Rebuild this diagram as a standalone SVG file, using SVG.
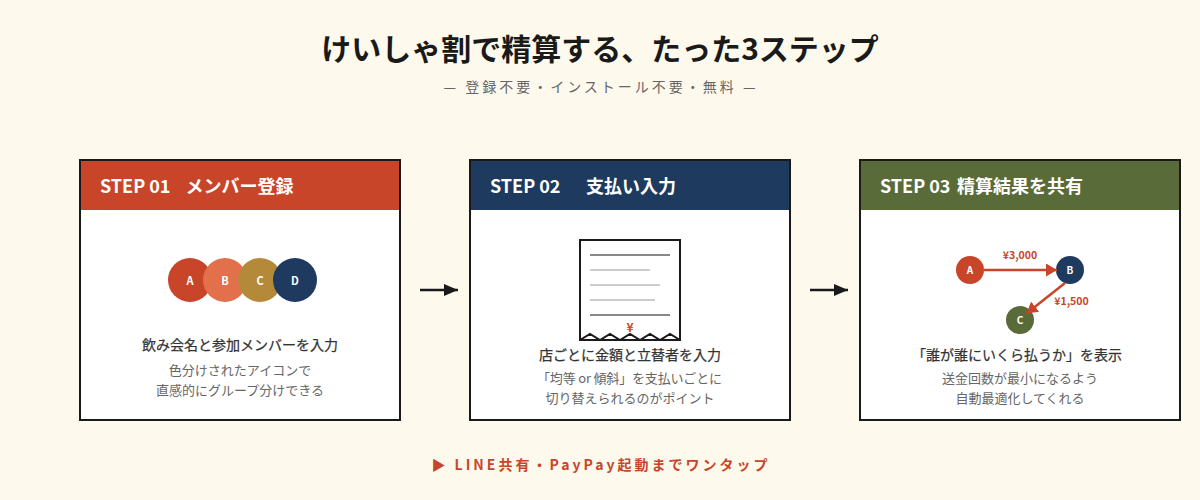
<svg xmlns="http://www.w3.org/2000/svg" width="1200" height="500" viewBox="0 0 1200 500">
<defs>
<marker id="ah" markerUnits="userSpaceOnUse" markerWidth="14" markerHeight="12" refX="14" refY="6" orient="auto"><path d="M0 0L14 6L0 12Z" fill="#1a1a1a"/></marker>
<marker id="rh" markerUnits="userSpaceOnUse" markerWidth="11" markerHeight="13" refX="11" refY="6.5" orient="auto"><path d="M0 0L11 6.5L0 13Z" fill="#c8452a"/></marker>
</defs>
<style>
text{font-family:"Noto Sans CJK JP","Noto Sans",sans-serif;text-anchor:middle}
.card{fill:#fff;stroke:#1a1a1a;stroke-width:2}
.hd{fill:#fff;font-size:18px;font-weight:700;text-anchor:start}
.t{fill:#333;stroke:#333;stroke-width:.25;font-size:14px;font-weight:400}
.d{fill:#666;font-size:13px}
.n{fill:#fff;font-size:11px;font-weight:700}
.y{fill:#c8452a;font-size:10.5px;font-weight:700}
.dk{stroke:#888;stroke-width:2}
.lt{stroke:#ccc;stroke-width:2}
</style>
<rect width="1200" height="500" fill="#fef9ed"/>
<text id="title" x="600" y="60" font-size="30" font-weight="700" fill="#1a1a1a">けいしゃ割で精算する、たった3ステップ</text>
<text id="subtitle" x="601" y="92" font-size="14" letter-spacing="3" fill="#666">— 登録不要・インストール不要・無料 —</text>
<g id="step1">
<rect class="card" x="80" y="160" width="320" height="260"/>
<rect x="81" y="161" width="318" height="49" fill="#c8452a"/>
<text class="hd" x="100" y="193">STEP 01<tspan x="185.5">メンバー登録</tspan></text>
<circle cx="190" cy="280" r="22" fill="#c8452a"/>
<circle cx="225" cy="280" r="22" fill="#e2704a"/>
<circle cx="260" cy="280" r="22" fill="#b5893a"/>
<circle cx="295" cy="280" r="22" fill="#1e3a5f"/>
<text class="n" x="190" y="285">A</text><text class="n" x="225" y="285">B</text><text class="n" x="260" y="285">C</text><text class="n" x="295" y="285">D</text>
<text class="t" x="240" y="350">飲み会名と参加メンバーを入力</text>
<text class="d" x="240" y="375">色分けされたアイコンで</text>
<text class="d" x="240" y="395">直感的にグループ分けできる</text>
</g>
<g id="step2">
<rect class="card" x="470" y="160" width="320" height="260"/>
<rect x="471" y="161" width="318" height="49" fill="#1e3a5f"/>
<text class="hd" x="490" y="193">STEP 02<tspan x="586">支払い入力</tspan></text>
<rect x="580" y="240" width="100" height="100" fill="#fff" stroke="#1a1a1a" stroke-width="2"/>
<line class="dk" x1="590" y1="255" x2="670" y2="255"/>
<line class="lt" x1="590" y1="270" x2="650" y2="270"/>
<line class="lt" x1="590" y1="285" x2="660" y2="285"/>
<line class="lt" x1="590" y1="300" x2="655" y2="300"/>
<line class="dk" x1="590" y1="315" x2="670" y2="315"/>
<text class="y" x="630" y="332" style="font-size:12px">¥</text>
<path d="M580 340L590 334L600 340L610 334L620 340L630 334L640 340L650 334L660 340L670 334L680 340" fill="none" stroke="#1a1a1a" stroke-width="2"/>
<text class="t" x="630" y="360">店ごとに金額と立替者を入力</text>
<text class="d" x="629.5" y="383" textLength="185">「均等 or 傾斜」を支払いごとに</text>
<text class="d" x="630" y="403">切り替えられるのがポイント</text>
</g>
<g id="step3">
<rect class="card" x="860" y="160" width="320" height="260"/>
<rect x="861" y="161" width="318" height="49" fill="#5a6b3a"/>
<text class="hd" x="880" y="193">STEP 03<tspan x="957">精算結果を共有</tspan></text>
<circle cx="970" cy="270" r="14" fill="#c8452a"/>
<circle cx="1070" cy="270" r="14" fill="#1e3a5f"/>
<circle cx="1020" cy="320" r="14" fill="#5a6b3a"/>
<text class="n" x="970" y="274" style="font-size:10px">A</text><text class="n" x="1070" y="274" style="font-size:10px">B</text><text class="n" x="1020" y="324" style="font-size:10px">C</text>
<text class="y" x="1020" y="259">¥3,000</text>
<text class="y" x="1071.5" y="305">¥1,500</text>
<text class="t" x="1017" y="360">「誰が誰にいくら払うか」を表示</text>
<text class="d" x="1020" y="383">送金回数が最小になるよう</text>
<text class="d" x="1020" y="403">自動最適化してくれる</text>
</g>
<g id="connectors" fill="none">
<line x1="420" y1="290" x2="458" y2="290" stroke="#1a1a1a" stroke-width="2.5" marker-end="url(#ah)"/>
<line x1="810" y1="290" x2="848" y2="290" stroke="#1a1a1a" stroke-width="2.5" marker-end="url(#ah)"/>
<line x1="984" y1="270" x2="1057" y2="270" stroke="#c8452a" stroke-width="2.5" marker-end="url(#rh)"/>
<line x1="1065" y1="283" x2="1026.5" y2="313.5" stroke="#c8452a" stroke-width="2.5" marker-end="url(#rh)"/>
</g>
<text id="footer" x="601" y="470" font-size="14" font-weight="700" letter-spacing="3" fill="#c8452a">▶ LINE共有・PayPay起動までワンタップ</text>
</svg>
